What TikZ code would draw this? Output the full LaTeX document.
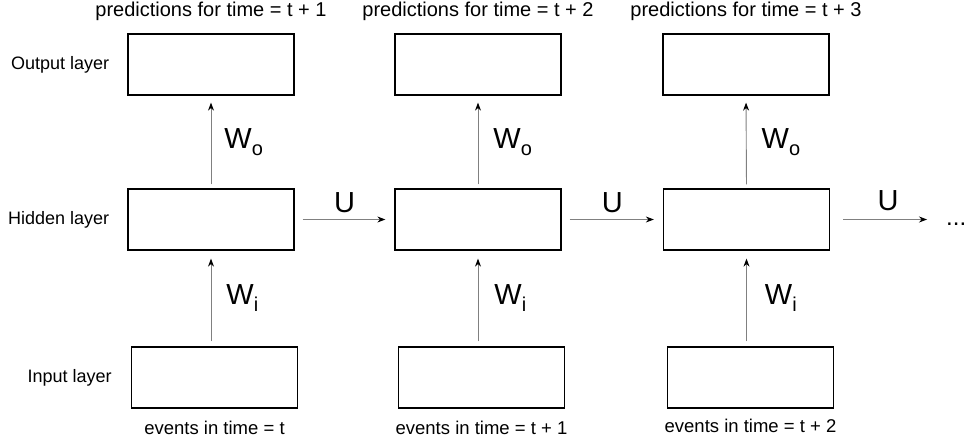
\documentclass[tikz,border=0pt]{standalone}
\usepackage{fontspec}
\setmainfont{Liberation Sans}
\usetikzlibrary{positioning, arrows.meta}
\definecolor{flowgray}{HTML}{808080}

\newcommand{\wsub}[1]{W\raisebox{-7pt}{\fontsize{20}{20}\selectfont #1}}

\tikzset{
  layerbox/.style={draw=black, line width=1.3pt, minimum width=166pt, minimum height=61pt, inner sep=0pt},
  flow/.style={draw=flowgray, line width=0.9pt, -{Stealth[length=8pt, width=6pt, black]}},
  weight/.style={font=\fontsize{29}{29}\selectfont, inner sep=0pt},
  sidelbl/.style={font=\fontsize{18}{18}\selectfont, inner sep=0pt},
  toplbl/.style={font=\fontsize{20}{20}\selectfont, inner sep=0pt},
  botlbl/.style={font=\fontsize{18.5}{18.5}\selectfont, inner sep=0pt}
}

\begin{document}
\begin{tikzpicture}[x=1pt, y=1pt]
    \useasboundingbox (0,0) rectangle (969,445);
    \def\ro{380.5}\def\rh{225.5}\def\ri{67.5}

    % output layer
    \node[layerbox] (out1) at (211,\ro) {};
    \node[layerbox] (out2) at (478,\ro) {};
    \node[layerbox] (out3) at (746,\ro) {};
    % hidden layer
    \node[layerbox] (hid1) at (211,\rh) {};
    \node[layerbox] (hid2) at (478,\rh) {};
    \node[layerbox] (hid3) at (746.5,\rh) {};
    % input layer
    \node[layerbox] (in1) at (214.5,\ri) {};
    \node[layerbox] (in2) at (481.5,\ri) {};
    \node[layerbox] (in3) at (750.5,\ri) {};

    \node[sidelbl, left=18pt of out1] {Output layer};
    \node[sidelbl, left=18pt of hid1] {Hidden layer};
    \node[sidelbl, left=19pt of in1] {Input layer};

    \node[toplbl, above=12pt of out1] {predictions for time = t + 1};
    \node[toplbl, above=12pt of out2] {predictions for time = t + 2};
    \node[toplbl, above=12pt of out3] {predictions for time = t + 3};

    \node[botlbl, below=12pt of in1] {events in time = t};
    \node[botlbl, below=12pt of in2] {events in time = t + 1};
    \node[botlbl, below=10pt of in3] {events in time = t + 2};

    \node[font=\fontsize{24}{24}\selectfont, inner sep=0pt, anchor=base west] (more) at (946,219) {...};

    % hidden -> output
    \draw[flow, shorten <=4pt, shorten >=7pt] (hid1.north) -- (out1.south)
      node[weight, midway, right=13pt] {\wsub{o}};
    \draw[flow, shorten <=4pt, shorten >=7pt] (hid2.north) -- (out2.south)
      node[weight, midway, right=15pt] {\wsub{o}};
    \draw[flow, shorten <=4pt, shorten >=7pt] (hid3.north) -- (out3.south)
      node[weight, midway, right=15pt] {\wsub{o}};

    % input -> hidden
    \draw[flow, shorten <=5pt, shorten >=8pt] (in1.north -| hid1.south) -- (hid1.south)
      node[weight, midway, right=15pt] {\wsub{i}};
    \draw[flow, shorten <=5pt, shorten >=8pt] (in2.north -| hid2.south) -- (hid2.south)
      node[weight, midway, right=16pt] {\wsub{i}};
    \draw[flow, shorten <=5pt, shorten >=8pt] (in3.north -| hid3.south) -- (hid3.south)
      node[weight, midway, right=18pt] {\wsub{i}};

    % hidden -> hidden
    \draw[flow, shorten <=8pt, shorten >=9pt] (hid1.east) -- (hid2.west)
      node[weight, midway, above=6pt] {U};
    \draw[flow, shorten <=8pt, shorten >=9pt] (hid2.east) -- (hid3.west)
      node[weight, midway, above=6pt] {U};
    \draw[flow, shorten <=13pt, shorten >=19pt] (hid3.east) -- (hid3.east -| more.west)
      node[weight, midway, above=8pt] {U};
\end{tikzpicture}
\end{document}
